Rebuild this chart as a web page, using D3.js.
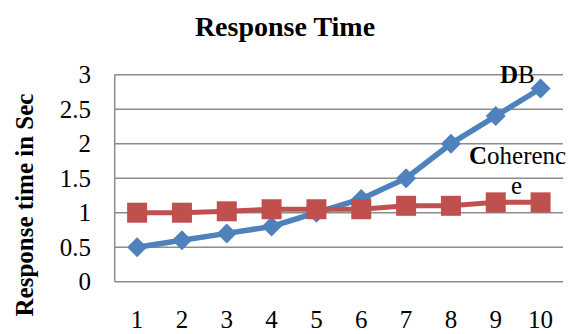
<!DOCTYPE html>
<html><head><meta charset="utf-8">
<script src="https://cdn.jsdelivr.net/npm/d3@7"></script>
<style>body{margin:0;background:#fff}svg{display:block}text{font-family:"Liberation Serif","Times New Roman",serif;fill:#000}</style>
</head><body><svg id="c" width="572" height="334"></svg>
<script>
const categories = [1,2,3,4,5,6,7,8,9,10];
const dbValues = [0.5,0.6,0.7,0.8,1.0,1.2,1.5,2.0,2.4,2.8];
const coherenceValues = [1.0,1.0,1.02,1.05,1.05,1.05,1.1,1.1,1.15,1.15];
const yTicks = [0,0.5,1,1.5,2,2.5,3];
const yTickLabels = ["0","0.5","1","1.5","2","2.5","3"];

const svg = d3.select("#c");
const L = 114.7, R = 563, T = 74.7, B = 281.7;
const x = d3.scaleBand().domain(categories).range([L,R]);
const cx = d => x(d) + x.bandwidth()/2;
const y = d3.scaleLinear().domain([0,3]).range([B,T]);

// gridlines
svg.append("g").selectAll("line").data(yTicks).join("line")
  .attr("x1",L).attr("x2",R).attr("y1",d=>y(d)).attr("y2",d=>y(d))
  .attr("stroke","#8c8c8c").attr("stroke-width",1.5);
svg.append("line").attr("x1",L).attr("x2",L).attr("y1",T).attr("y2",B)
  .attr("stroke","#8c8c8c").attr("stroke-width",1.5);

// y ticks
svg.append("g").selectAll("text").data(yTicks).join("text")
  .attr("x",91).attr("y",d=>y(d)).attr("dy","0.35em").attr("text-anchor","end")
  .attr("font-size",25).text((d,i)=>yTickLabels[i]);
// x ticks
svg.append("g").selectAll("text").data(categories).join("text")
  .attr("x",d=>cx(d)).attr("y",328).attr("text-anchor","middle")
  .attr("font-size",25).text(d=>d);

// title
svg.append("text").attr("x",285).attr("y",36).attr("text-anchor","middle")
  .attr("font-size",28).attr("font-weight","bold").text("Response Time");
// y title
svg.append("text").attr("transform","translate(33,205) rotate(-90)")
  .attr("text-anchor","middle").attr("font-size",25).attr("font-weight","bold")
  .text("Response time in Sec");

const line = d3.line().x((d,i)=>cx(categories[i])).y(d=>y(d));

// DB series
svg.append("path").datum(dbValues).attr("d",line).attr("fill","none")
  .attr("stroke","#4F81BD").attr("stroke-width",5.5).attr("stroke-linejoin","round");
svg.append("g").selectAll("path").data(dbValues).join("path")
  .attr("d",d3.symbol(d3.symbolSquare, 200))
  .attr("transform",(d,i)=>`translate(${cx(categories[i])},${y(d)}) rotate(45)`)
  .attr("fill","#4F81BD");

// Coherence series
svg.append("path").datum(coherenceValues).attr("d",line).attr("fill","none")
  .attr("stroke","#C0504D").attr("stroke-width",5).attr("stroke-linejoin","round");
svg.append("g").selectAll("rect").data(coherenceValues).join("rect")
  .attr("x",(d,i)=>cx(categories[i])-10).attr("y",d=>y(d)-10)
  .attr("width",20).attr("height",20).attr("fill","#C0504D");

// series labels
const db = svg.append("text").attr("x",500).attr("y",83).attr("font-size",25);
db.append("tspan").attr("font-weight","bold").text("D");
db.append("tspan").text("B");
const co = svg.append("text").attr("x",469).attr("y",164).attr("font-size",25);
co.append("tspan").attr("font-weight","bold").text("C");
co.append("tspan").text("oherenc");
svg.append("text").attr("x",511).attr("y",194).attr("font-size",25).text("e");
</script></body></html>
